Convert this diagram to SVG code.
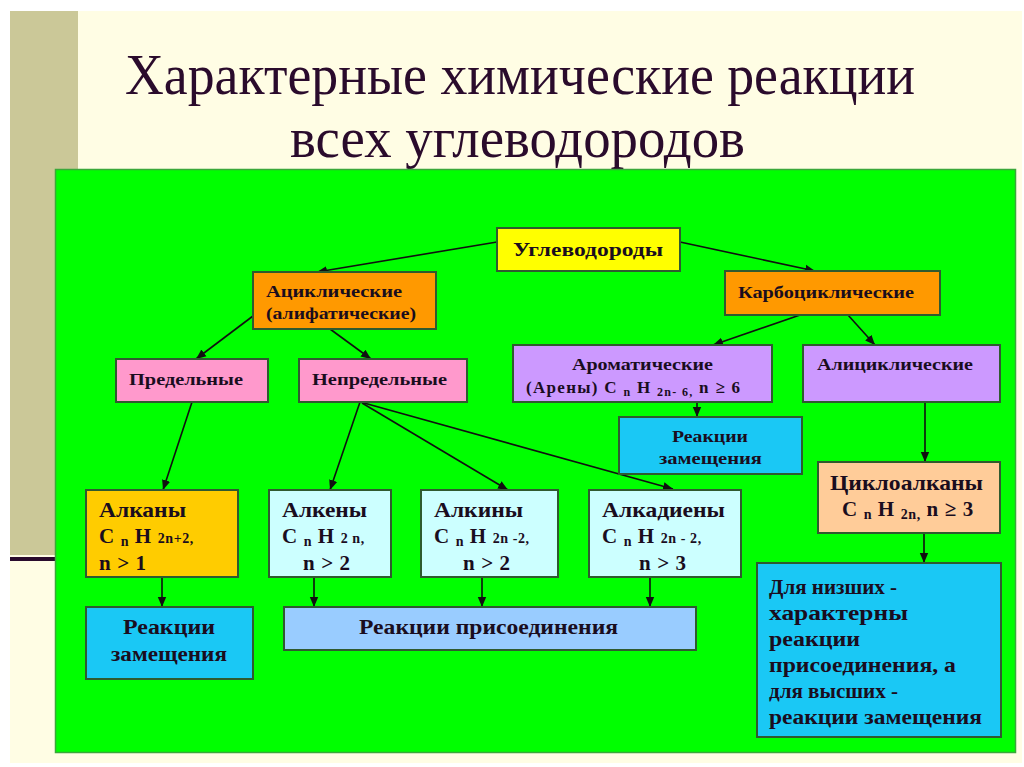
<svg xmlns="http://www.w3.org/2000/svg" width="1024" height="767" viewBox="0 0 1024 767">
<defs>
<marker id="ah" markerUnits="userSpaceOnUse" markerWidth="10" markerHeight="10" viewBox="0 0 10 10" refX="10" refY="5" orient="auto">
<path d="M0,0.8 L10,5 L0,9.2 Z" fill="#101010"/>
</marker>
<style>
.box{stroke:#2f5a2f;stroke-width:2}
.t{font-weight:bold;fill:#1a0d1e}
.s{font-size:18px}
.b{font-size:21px}
.f{font-size:21px;letter-spacing:0.6px}
.title{font-size:56px;fill:#2a0b2c}
.c line{stroke:#101010;stroke-width:1.6;marker-end:url(#ah)}
</style>
</defs>
<rect x="0" y="0" width="1024" height="767" fill="#ffffff"/>
<rect x="10" y="11" width="1012" height="752" fill="#fffde4"/>
<rect x="10" y="11" width="68" height="544" fill="#cbc898"/>
<rect x="10" y="557" width="45" height="4" fill="#2a0b2c"/>
<g id="title" font-family="'Liberation Serif', 'Times New Roman', serif">
<text class="title" x="125" y="94" textLength="790" lengthAdjust="spacingAndGlyphs">Характерные химические реакции</text>
<text class="title" x="290" y="157" textLength="455" lengthAdjust="spacingAndGlyphs">всех углеводородов</text>
</g>
<rect x="55.5" y="169.5" width="960" height="583" fill="#00ff00" stroke="#3aa83a" stroke-width="1.5"/>

<g class="c" id="connectors">
<line x1="497" y1="242" x2="317" y2="272"/>
<line x1="680" y1="242" x2="815" y2="271"/>
<line x1="253" y1="316" x2="196" y2="359"/>
<line x1="330" y1="329" x2="371" y2="359"/>
<line x1="800" y1="315" x2="713" y2="345"/>
<line x1="848" y1="315" x2="875" y2="345"/>
<line x1="697" y1="402" x2="697" y2="417"/>
<line x1="925" y1="402" x2="925" y2="462"/>
<line x1="924" y1="533" x2="924" y2="563"/>
<line x1="192" y1="402" x2="163" y2="490"/>
<line x1="360" y1="402" x2="330" y2="490"/>
<line x1="362" y1="403" x2="508" y2="490"/>
<line x1="364" y1="403" x2="673" y2="489"/>
<line x1="162" y1="577" x2="162" y2="607"/>
<line x1="314" y1="577" x2="314" y2="607"/>
<line x1="482" y1="577" x2="482" y2="607"/>
<line x1="650" y1="577" x2="650" y2="607"/>
</g>

<g id="nodes" font-family="'Liberation Serif', 'Times New Roman', serif">
<g id="n-uglevodorody">
<rect class="box" x="497" y="228" width="183" height="43" fill="#ffff00"/>
<text class="t s" x="513" y="256" textLength="150" lengthAdjust="spacingAndGlyphs">Углеводороды</text>
</g>
<g id="n-aciklicheskie">
<rect class="box" x="253" y="272" width="183" height="57" fill="#ff9900"/>
<text class="t" font-size="17" x="266" y="297" textLength="136" lengthAdjust="spacingAndGlyphs">Ациклические</text>
<text class="t" font-size="17" x="266" y="319" textLength="150" lengthAdjust="spacingAndGlyphs">(алифатические)</text>
</g>
<g id="n-karbociklicheskie">
<rect class="box" x="725" y="271" width="215" height="44" fill="#ff9900"/>
<text class="t" x="738" y="298" font-size="16" textLength="176" lengthAdjust="spacingAndGlyphs">Карбоциклические</text>
</g>
<g id="n-predelnye">
<rect class="box" x="116" y="359" width="152" height="43" fill="#ff99cc"/>
<text class="t" x="129" y="385" font-size="17" textLength="114" lengthAdjust="spacingAndGlyphs">Предельные</text>
</g>
<g id="n-nepredelnye">
<rect class="box" x="299" y="359" width="168" height="43" fill="#ff99cc"/>
<text class="t" x="312" y="385" font-size="17" textLength="135" lengthAdjust="spacingAndGlyphs">Непредельные</text>
</g>
<g id="n-aromaticheskie">
<rect class="box" x="513" y="345" width="259" height="57" fill="#cc99ff"/>
<text class="t" x="572" y="370" font-size="17" textLength="141" lengthAdjust="spacingAndGlyphs">Ароматические</text>
<text class="t" x="526" y="393" font-size="17" letter-spacing="1.3">(Арены) С <tspan font-size="12" dy="3">n</tspan><tspan dy="-3"> Н </tspan><tspan font-size="12" dy="3">2n- 6,</tspan><tspan dy="-3"> n ≥ 6</tspan></text>
</g>
<g id="n-aliciklicheskie">
<rect class="box" x="803" y="345" width="197" height="57" fill="#cc99ff"/>
<text class="t" x="817" y="370" font-size="16" textLength="156" lengthAdjust="spacingAndGlyphs">Алициклические</text>
</g>
<g id="n-zam-arom">
<rect class="box" x="619" y="417" width="183" height="57" fill="#1ac8f5"/>
<text class="t" x="672" y="442" font-size="17" textLength="76" lengthAdjust="spacingAndGlyphs">Реакции</text>
<text class="t" x="659" y="464" font-size="17" textLength="103" lengthAdjust="spacingAndGlyphs">замещения</text>
</g>
<g id="n-cikloalkany">
<rect class="box" x="818" y="462" width="182" height="71" fill="#ffcc99"/>
<text class="t b" x="830" y="490" textLength="153" lengthAdjust="spacingAndGlyphs">Циклоалканы</text>
<text class="t f" x="842" y="516">С <tspan font-size="14" dy="3">n</tspan><tspan dy="-3"> Н </tspan><tspan font-size="14" dy="3">2n,</tspan><tspan dy="-3"> n ≥ 3</tspan></text>
</g>
<g id="n-dlya-nizshih">
<rect class="box" x="757" y="563" width="244" height="174" fill="#1ac8f5"/>
<text class="t" x="769" y="594" font-size="20" textLength="128" lengthAdjust="spacingAndGlyphs">Для низших -</text>
<text class="t" x="769" y="620" font-size="20" textLength="139" lengthAdjust="spacingAndGlyphs">характерны</text>
<text class="t" x="769" y="646" font-size="20" textLength="91" lengthAdjust="spacingAndGlyphs">реакции</text>
<text class="t" x="769" y="672" font-size="20" textLength="187" lengthAdjust="spacingAndGlyphs">присоединения, а</text>
<text class="t" x="769" y="698" font-size="20" textLength="129" lengthAdjust="spacingAndGlyphs">для высших -</text>
<text class="t" x="769" y="724" font-size="20" textLength="213" lengthAdjust="spacingAndGlyphs">реакции замещения</text>
</g>
<g id="n-alkany">
<rect class="box" x="86" y="490" width="152" height="87" fill="#ffcc00"/>
<text class="t b" x="99" y="517" textLength="87" lengthAdjust="spacingAndGlyphs">Алканы</text>
<text class="t f" x="99" y="543">С <tspan font-size="14" dy="3">n</tspan><tspan dy="-3"> Н </tspan><tspan font-size="14">2n+2,</tspan></text>
<text class="t f" x="99" y="570">n &gt; 1</text>
</g>
<g id="n-alkeny">
<rect class="box" x="269" y="490" width="122" height="87" fill="#ccffff"/>
<text class="t b" x="282" y="517" textLength="85" lengthAdjust="spacingAndGlyphs">Алкены</text>
<text class="t f" x="282" y="543">С <tspan font-size="14" dy="3">n</tspan><tspan dy="-3"> Н </tspan><tspan font-size="14">2 n,</tspan></text>
<text class="t f" x="303" y="570">n &gt; 2</text>
</g>
<g id="n-alkiny">
<rect class="box" x="421" y="490" width="137" height="87" fill="#ccffff"/>
<text class="t b" x="434" y="517" textLength="89" lengthAdjust="spacingAndGlyphs">Алкины</text>
<text class="t f" x="434" y="543">С <tspan font-size="14" dy="3">n</tspan><tspan dy="-3"> Н </tspan><tspan font-size="14">2n -2,</tspan></text>
<text class="t f" x="463" y="570">n &gt; 2</text>
</g>
<g id="n-alkadieny">
<rect class="box" x="589" y="490" width="152" height="87" fill="#ccffff"/>
<text class="t b" x="602" y="517" textLength="123" lengthAdjust="spacingAndGlyphs">Алкадиены</text>
<text class="t f" x="602" y="543">С <tspan font-size="14" dy="3">n</tspan><tspan dy="-3"> Н </tspan><tspan font-size="14">2n - 2,</tspan></text>
<text class="t f" x="639" y="570">n &gt; 3</text>
</g>
<g id="n-zam-alkany">
<rect class="box" x="86" y="607" width="167" height="72" fill="#1ac8f5"/>
<text class="t" x="123" y="634" font-size="20" textLength="92" lengthAdjust="spacingAndGlyphs">Реакции</text>
<text class="t" x="111" y="661" font-size="20" textLength="116" lengthAdjust="spacingAndGlyphs">замещения</text>
</g>
<g id="n-prisoedinenie">
<rect class="box" x="284" y="607" width="412" height="43" fill="#99ccff"/>
<text class="t" x="359" y="634" font-size="20" textLength="259" lengthAdjust="spacingAndGlyphs">Реакции присоединения</text>
</g>
</g>
</svg>
